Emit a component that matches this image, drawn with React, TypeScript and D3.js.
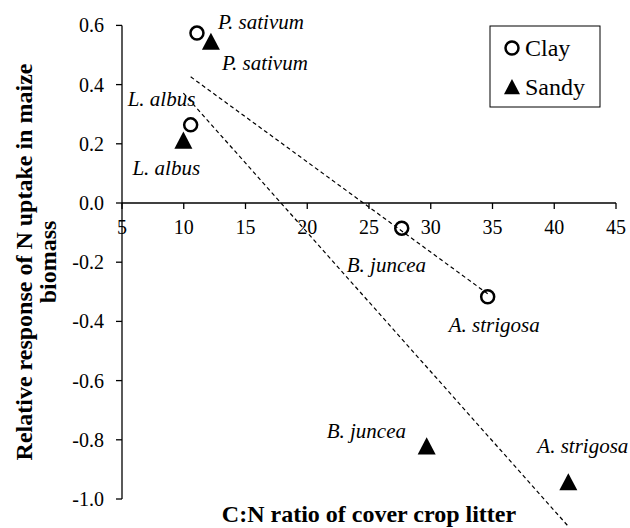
import React from "react";
import * as d3 from "d3";

const species = ["P. sativum", "L. albus", "B. juncea", "A. strigosa"];
const cnRatio = [11.07, 10.56, 27.65, 34.61];
const clayResponse = [0.574, 0.264, -0.085, -0.317];
const sandyCn = [12.2, 9.97, 29.67, 41.14];
const sandyResponse = [0.545, 0.211, -0.822, -0.943];
const xTicks = [5, 10, 15, 20, 25, 30, 35, 40, 45];
const yTicks = [-1.0, -0.8, -0.6, -0.4, -0.2, 0.0, 0.2, 0.4, 0.6];
const seriesNames = ["Clay", "Sandy"];

// label offsets (pixels, relative to marker)
const clayLabelOffsets = [[21, -4], [-63, -19], [-55, 44], [-39, 35]];
const sandyLabelOffsets = [[11, 28], [-51, 34], [-100, -8], [-31, -29]];

const W = 630, H = 528;
const FONT = '"Times New Roman", Times, "Liberation Serif", Tinos, "DejaVu Serif", serif';

function regression(xs: number[], ys: number[]) {
  const mx = d3.mean(xs)!, my = d3.mean(ys)!;
  let sxx = 0, sxy = 0;
  xs.forEach((x, i) => { sxx += (x - mx) ** 2; sxy += (x - mx) * (ys[i] - my); });
  const b = sxy / sxx;
  const a = my - b * mx;
  return (x: number) => a + b * x;
}

function tri(cx: number, cy: number, s = 9) {
  return `M${cx},${cy - s}L${cx + s},${cy + s * 0.9}L${cx - s},${cy + s * 0.9}Z`;
}

const T = (props: any) => <text {...props} style={{ fontFamily: FONT }} />;

export default function App() {
  const x = d3.scaleLinear().domain([5, 45]).range([122, 616]);
  const y = d3.scaleLinear().domain([-1, 0.6]).range([499, 25.4]);
  const y0 = y(0);
  const x0 = x(5);

  const clayFit = regression(cnRatio, clayResponse);
  const sandyFit = regression(sandyCn, sandyResponse);
  const line = d3.line<[number, number]>().x(d => x(d[0])).y(d => y(d[1]));
  const cExt = d3.extent(cnRatio) as [number, number];
  const sExt = d3.extent(sandyCn) as [number, number];
  const clayLine = line([[cExt[0], clayFit(cExt[0])], [cExt[1], clayFit(cExt[1])]]);
  const sandyLine = line([[sExt[0], sandyFit(sExt[0])], [sExt[1], sandyFit(sExt[1])]]);

  return (
    <svg width={W} height={H} style={{ position: "absolute", left: 0, top: 0, background: "#fff", fontFamily: FONT }}>
      <rect x={0} y={0} width={W} height={H} fill="#fff" />
      {/* axes */}
      <line x1={x0} x2={x0} y1={y(-1)} y2={y(0.6)} stroke="#000" strokeWidth={1.3} />
      <line x1={x(5)} x2={x(45)} y1={y0} y2={y0} stroke="#000" strokeWidth={1.3} />
      {yTicks.map(t => (
        <g key={"y" + t}>
          <line x1={x0 - 6} x2={x0} y1={y(t)} y2={y(t)} stroke="#000" strokeWidth={1.3} />
          <T x={x0 - 18} y={y(t) + 7} textAnchor="end" fontSize={20}>{t.toFixed(1)}</T>
        </g>
      ))}
      {xTicks.map(t => (
        <g key={"x" + t}>
          <line x1={x(t)} x2={x(t)} y1={y0} y2={y0 + 6} stroke="#000" strokeWidth={1.3} />
          <T x={x(t)} y={y0 + 31} textAnchor="middle" fontSize={20}>{t}</T>
        </g>
      ))}
      {/* markers */}
      {cnRatio.map((c, i) => (
        <circle key={"c" + i} cx={x(c)} cy={y(clayResponse[i])} r={6.5} fill="none" stroke="#000" strokeWidth={2.5} />
      ))}
      {sandyCn.map((c, i) => (
        <path key={"s" + i} d={tri(x(c), y(sandyResponse[i]))} fill="#000" />
      ))}
      {/* trend lines */}
      <path d={clayLine!} fill="none" stroke="#000" strokeWidth={1.2} strokeDasharray="4,3" />
      <path d={sandyLine!} fill="none" stroke="#000" strokeWidth={1.2} strokeDasharray="4,3" />
      {/* labels */}
      {species.map((s, i) => (
        <T key={"lc" + i} x={x(cnRatio[i]) + clayLabelOffsets[i][0]} y={y(clayResponse[i]) + clayLabelOffsets[i][1]} fontSize={21} fontStyle="italic">{s}</T>
      ))}
      {species.map((s, i) => (
        <T key={"ls" + i} x={x(sandyCn[i]) + sandyLabelOffsets[i][0]} y={y(sandyResponse[i]) + sandyLabelOffsets[i][1]} fontSize={21} fontStyle="italic">{s}</T>
      ))}
      {/* legend */}
      <rect x={490} y={26} width={110} height={81} fill="#fff" stroke="#000" strokeWidth={1} />
      <circle cx={512} cy={48} r={6.5} fill="none" stroke="#000" strokeWidth={2.5} />
      <T x={525} y={56} fontSize={24}>{seriesNames[0]}</T>
      <path d={tri(512, 87, 8)} fill="#000" />
      <T x={525} y={95} fontSize={24}>{seriesNames[1]}</T>
      {/* titles */}
      <T x={(x(5) + x(45)) / 2} y={522} textAnchor="middle" fontSize={24} fontWeight="bold">C:N ratio of cover crop litter</T>
      <g transform={`translate(32,262) rotate(-90)`}>
        <T textAnchor="middle" fontSize={24} fontWeight="bold">Relative response of N uptake in maize</T>
      </g>
      <g transform={`translate(56,262) rotate(-90)`}>
        <T textAnchor="middle" fontSize={24} fontWeight="bold">biomass</T>
      </g>
    </svg>
  );
}
